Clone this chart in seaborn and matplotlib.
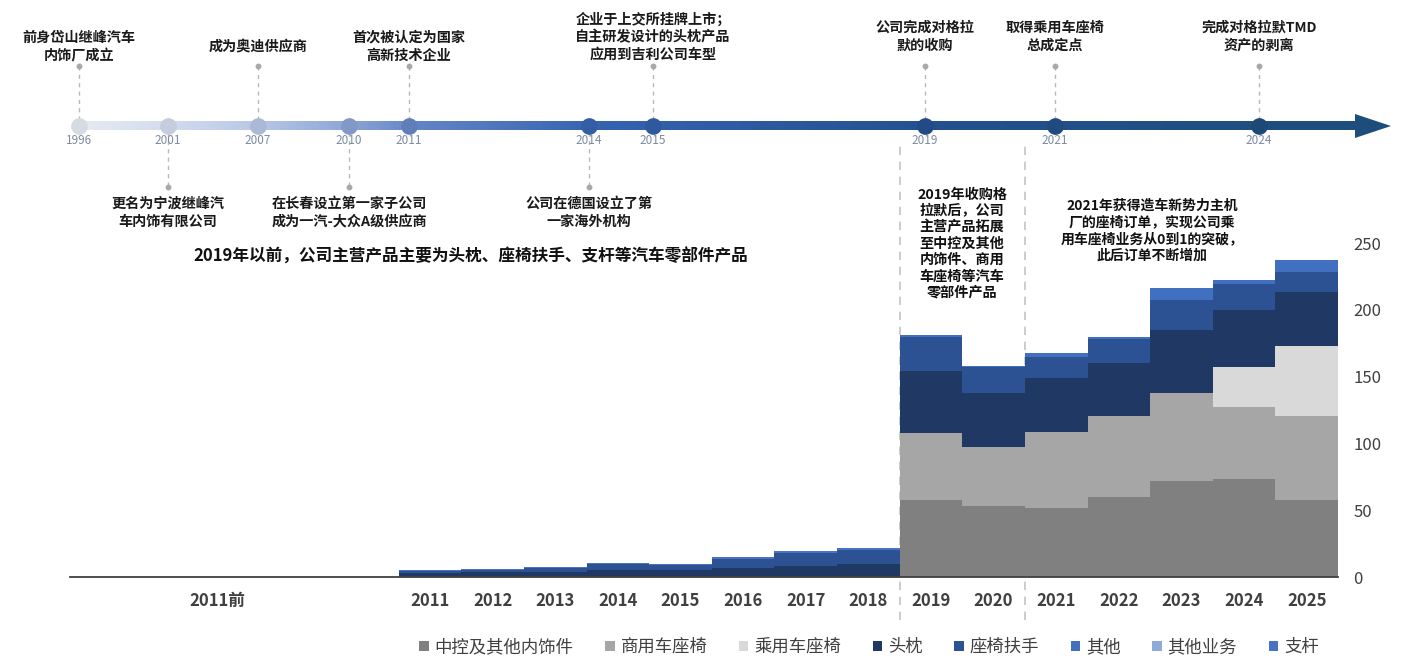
import numpy as np
import pandas as pd
import matplotlib
matplotlib.use("Agg")
import matplotlib.pyplot as plt
import seaborn as sns
from matplotlib.patches import Patch, Polygon
from matplotlib.colors import LinearSegmentedColormap
import matplotlib.transforms as mtransforms

# ---------------- data ----------------
years = [str(y) for y in range(2011, 2026)]
pre_label = "2011前"

central_trim = [0, 0, 0, 0, 0, 0, 0, 0, 58, 53, 52, 60, 72, 73, 58]
commercial_seat = [0, 0, 0, 0, 0, 0, 0, 0, 49.5, 44, 56.5, 60.5, 66, 54.5, 62.5]
passenger_seat = [0, 0, 0, 0, 0, 0, 0, 0, 0, 0, 0, 0, 0, 29.5, 52.5]
headrest = [3, 3.5, 4, 5.5, 5, 7, 8, 9.5, 46.5, 41, 40.5, 39.5, 47, 42.5, 40]
armrest = [1.5, 1.7, 3.0, 4.0, 4.0, 6.6, 10.0, 11.0, 26, 19, 16, 18, 22, 20, 15.5]
other = [0, 0, 0, 0, 0, 0, 0, 0, 1, 1, 3, 1.5, 9, 3, 9]
other_business = [0, 0, 0, 0, 0, 0, 0, 0, 0, 0, 0, 0, 0, 0, 0]
support_rod = [0.5, 0.5, 0.8, 0.8, 0.8, 1.0, 1.2, 1.2, 0, 0, 0, 0, 0, 0, 0]

series_names = ["中控及其他内饰件", "商用车座椅", "乘用车座椅", "头枕",
                "座椅扶手", "其他", "其他业务", "支杆"]
series_values = [central_trim, commercial_seat, passenger_seat, headrest,
                 armrest, other, other_business, support_rod]
y_ticks = [0, 50, 100, 150, 200, 250]

milestone_years = ["1996", "2001", "2007", "2010", "2011", "2014", "2015",
                   "2019", "2021", "2024"]
milestone_texts = [
    "前身岱山继峰汽车\n内饰厂成立",
    "更名为宁波继峰汽\n车内饰有限公司",
    "成为奥迪供应商",
    "在长春设立第一家子公司\n成为一汽-大众A级供应商",
    "首次被认定为国家\n高新技术企业",
    "公司在德国设立了第\n一家海外机构",
    "企业于上交所挂牌上市；\n自主研发设计的头枕产品\n应用到吉利公司车型",
    "公司完成对格拉\n默的收购",
    "取得乘用车座椅\n总成定点",
    "完成对格拉默TMD\n资产的剥离",
]
milestone_side = ["up", "down", "up", "down", "up", "down", "up", "up", "up", "up"]

note_pre2019 = "2019年以前，公司主营产品主要为头枕、座椅扶手、支杆等汽车零部件产品"
note_2019 = "2019年收购格\n拉默后，公司\n主营产品拓展\n至中控及其他\n内饰件、商用\n车座椅等汽车\n零部件产品"
note_2021 = "2021年获得造车新势力主机\n厂的座椅订单，实现公司乘\n用车座椅业务从0到1的突破，\n此后订单不断增加"

# ---------------- styles / layout ----------------
series_colors = ["#808080", "#a6a6a6", "#d9d9d9", "#1f3864",
                 "#2d5294", "#4170c0", "#8eaadb", "#4a72c4"]
W, H = 1403, 659
milestone_x = [79, 168, 258, 349, 409, 589, 653, 925, 1055, 1259]
milestone_text_y = [47, 213, 46, 213, 47, 213, 37, 37, 37, 37]
milestone_spacing = [1.4, 1.35, 1.3, 1.35, 1.4, 1.35, 1.27, 1.35, 1.35, 1.35]
line_y = 126

sns.set_theme(style="white")
plt.rcParams["font.family"] = ["Noto Sans CJK SC", "DejaVu Sans"]
plt.rcParams["axes.unicode_minus"] = False

fig = plt.figure(figsize=(W / 100, H / 100), dpi=100)
fig.patch.set_facecolor("white")

# ---------------- stacked bars ----------------
ax = fig.add_axes([70 / W, 1 - 577 / H, (1338 - 70) / W, (577 - 243) / H])
tops = np.cumsum(np.array(series_values, dtype=float), axis=0)
for name, top, color in reversed(list(zip(series_names, tops, series_colors))):
    sns.barplot(x=years, y=top, order=years, color=color, saturation=1,
                width=1.0, linewidth=0, errorbar=None, ax=ax)

ax.set_xlim(-5.75, 14.5)
ax.set_ylim(0, 250)
for s in ["left", "top", "right"]:
    ax.spines[s].set_visible(False)
ax.spines["bottom"].set_color("#404040")
ax.spines["bottom"].set_linewidth(1.3)
ax.set_xlabel("")
ax.set_ylabel("")

tick_pos = [-3.4] + list(range(len(years)))
ax.set_xticks(tick_pos)
ax.set_xticklabels([pre_label] + years, fontsize=12, color="#404040",
                   fontweight="bold")
ax.tick_params(axis="x", length=0, pad=11)
ax.set_xticks([-5.75] + [i - 0.5 for i in range(len(years))], minor=True)
ax.tick_params(axis="x", which="minor", direction="in", length=5,
               width=1.2, color="#303030")

ax.yaxis.tick_right()
ax.set_yticks(y_ticks)
ax.set_yticklabels([str(v) for v in y_ticks], fontsize=12, color="#404040")
ax.tick_params(axis="y", length=0, pad=11)
ax.grid(False)

# dashed separators around the 2019-2020 period
blend = mtransforms.blended_transform_factory(ax.transData, ax.transAxes)
for xb in [7.5, 9.5]:
    ax.plot([xb, xb], [-0.13, (577 - 140) / 334], transform=blend,
            color="#c4c4c4", lw=1.2, ls=(0, (5, 4)), clip_on=False, zorder=0)

# ---------------- timeline overlay ----------------
ov = fig.add_axes([0, 0, 1, 1], facecolor="none")

cmap = LinearSegmentedColormap.from_list(
    "timeline",
    [(0.0, "#e6eaf3"), (0.07, "#d3dcee"), (0.14, "#b6c6e5"), (0.21, "#8aa3d6"),
     (0.26, "#6284c6"), (0.40, "#3563ae"), (0.66, "#24508e"), (1.0, "#1d4e7b")])
x0, x1 = 75, 1390
x_end = 1360
gradient = np.linspace(0, (x_end - x0) / (x1 - x0), 512)[None, :]
ov.imshow(gradient, cmap=cmap, vmin=0, vmax=1, aspect="auto",
          extent=[x0, x_end, line_y + 4.5, line_y - 4.5], zorder=2,
          interpolation="bilinear")
ov.add_patch(Polygon([[1355, line_y - 12], [1391, line_y], [1355, line_y + 12]],
                     closed=True, color=cmap(1.0), zorder=3, lw=0))

for yr, xm, txt, side, ty, sp in zip(milestone_years, milestone_x,
                                     milestone_texts, milestone_side,
                                     milestone_text_y, milestone_spacing):
    c = np.array(cmap((xm - x0) / (x1 - x0))[:3]) * 0.93
    if side == "up":
        ov.plot([xm, xm], [66, line_y - 6], color="#b8b8b8", lw=1.0,
                ls=(0, (3, 3)), zorder=1)
        ov.plot([xm], [66], marker="o", ms=3.2, color="#a8a8a8", zorder=1)
    else:
        ov.plot([xm, xm], [line_y + 6, 187], color="#b8b8b8", lw=1.0,
                ls=(0, (3, 3)), zorder=1)
        ov.plot([xm], [187], marker="o", ms=3.2, color="#a8a8a8", zorder=1)
    ov.text(xm, ty, txt, ha="center", va="center", fontsize=10.2,
            fontweight="bold", color="#1a1a1a", linespacing=sp)
    ov.plot([xm], [line_y], marker="o", ms=11, color=c, mec=c, zorder=4)
    ov.text(xm, 141, yr, ha="center", va="center", fontsize=8.5,
            color="#7d8ba0", zorder=4)

ov.text(471, 257, note_pre2019, ha="center", va="center", fontsize=12,
        fontweight="bold", color="#111111")
ov.text(962, 244, note_2019, ha="center", va="center", fontsize=10.2,
        fontweight="bold", color="#111111", linespacing=1.2)
ov.text(1152, 231, note_2021, ha="center", va="center", fontsize=10,
        fontweight="bold", color="#111111", linespacing=1.25)

ov.set_xlim(0, W)
ov.set_ylim(H, 0)
ov.axis("off")

# ---------------- legend ----------------
handles = [Patch(facecolor=c, edgecolor="none") for c in series_colors]
fig.legend(handles, series_names, loc="center",
           bbox_to_anchor=(869 / W, 1 - 647 / H), ncol=8, frameon=False,
           handlelength=0.55, handleheight=0.55, handletextpad=0.35,
           columnspacing=1.8, fontsize=12.5, labelcolor="#404040")

fig.savefig("out.png", dpi=100, facecolor="white")
